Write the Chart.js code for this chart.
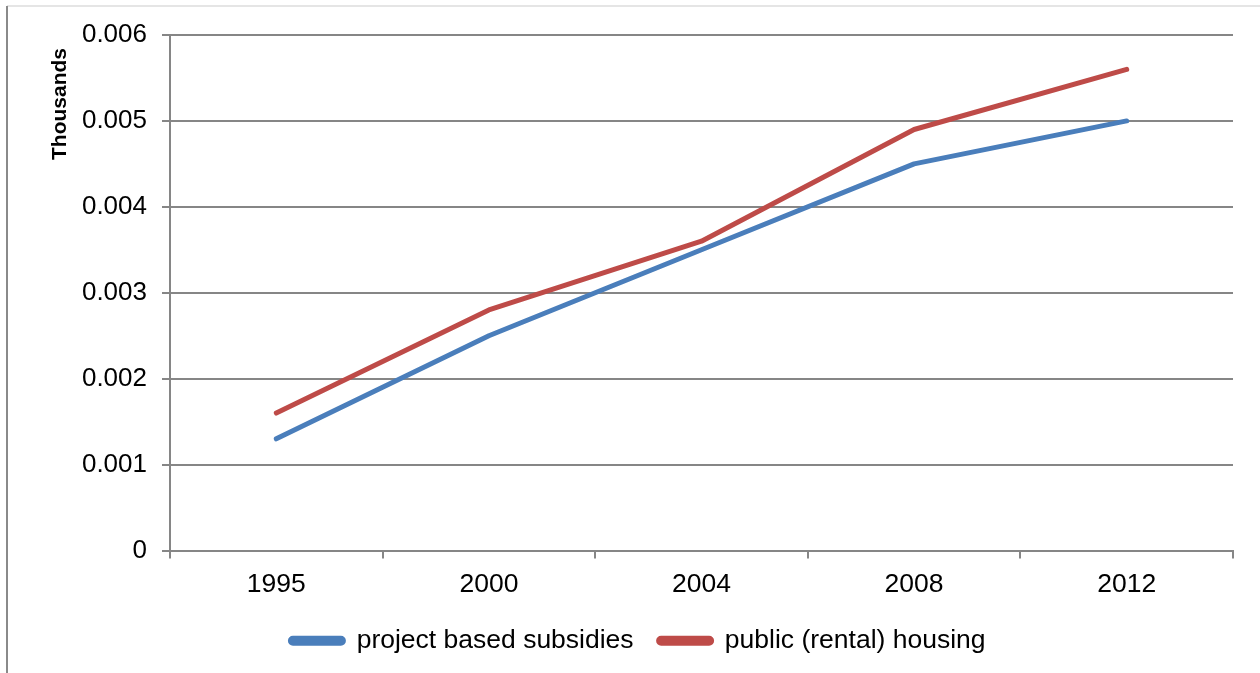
<!DOCTYPE html>
<html>
<head>
<meta charset="utf-8">
<script src="https://cdn.jsdelivr.net/npm/chart.js@4/dist/chart.umd.min.js"></script>
<style>
  html, body { margin: 0; padding: 0; background: #fff; }
  #wrap { width: 1260px; height: 673px; position: relative; }
</style>
</head>
<body>
<div id="wrap"><canvas id="housingChart" width="1260" height="673"></canvas></div>
<script>
const years = ['1995', '2000', '2004', '2008', '2012'];
const projectBased = [0.0013, 0.0025, 0.0035, 0.0045, 0.0050];
const publicHousing = [0.0016, 0.0028, 0.0036, 0.0049, 0.0056];
const yTickLabels = ['0', '0.001', '0.002', '0.003', '0.004', '0.005', '0.006'];
const yTitle = 'Thousands';

const gridGray = '#868686';
const font = 'Liberation Sans, Arial, sans-serif';

// outer frame of the chart box (left and top edges) and the y axis title
const framePlugin = {
    id: 'frame',
    beforeDraw(chart) {
        const ctx = chart.ctx;
        ctx.save();
        ctx.strokeStyle = '#dcdcdc';
        ctx.lineWidth = 1.5;
        ctx.beginPath();
        ctx.moveTo(7, 6);
        ctx.lineTo(1260, 6);
        ctx.stroke();
        ctx.strokeStyle = '#8a8a8a';
        ctx.lineWidth = 2;
        ctx.beginPath();
        ctx.moveTo(7, 6);
        ctx.lineTo(7, 673);
        ctx.stroke();
        ctx.restore();
    },
    afterDraw(chart) {
        const ctx = chart.ctx;
        ctx.save();
        ctx.translate(60, 104);
        ctx.rotate(-Math.PI / 2);
        ctx.fillStyle = '#000';
        ctx.font = 'bold 21px ' + font;
        ctx.textAlign = 'center';
        ctx.textBaseline = 'middle';
        ctx.fillText(yTitle, 0, 0);
        ctx.restore();
    }
};

new Chart(document.getElementById('housingChart'), {
    type: 'line',
    data: {
        labels: years,
        datasets: [
            {
                label: 'project based subsidies',
                data: projectBased,
                borderColor: '#4a7ebb',
                backgroundColor: '#4a7ebb',
                borderWidth: 5,
                borderCapStyle: 'round',
                borderJoinStyle: 'round',
                pointRadius: 0,
                tension: 0
            },
            {
                label: 'public (rental) housing',
                data: publicHousing,
                borderColor: '#be4b48',
                backgroundColor: '#be4b48',
                borderWidth: 5,
                borderCapStyle: 'round',
                borderJoinStyle: 'round',
                pointRadius: 0,
                tension: 0
            }
        ]
    },
    options: {
        responsive: false,
        animation: false,
        layout: {
            padding: { left: 43, right: 27, top: 35, bottom: 9 }
        },
        scales: {
            x: {
                offset: true,
                grid: {
                    offset: true,
                    drawOnChartArea: false,
                    drawTicks: true,
                    tickLength: 8,
                    color: gridGray,
                    lineWidth: 2
                },
                border: { display: true, color: gridGray, width: 2 },
                ticks: {
                    color: '#000',
                    padding: 10,
                    maxRotation: 0,
                    font: { family: font, size: 26.5 }
                },
                afterFit(scale) { scale.height = 52; }
            },
            y: {
                min: 0,
                max: 0.006,
                grid: {
                    color: gridGray,
                    lineWidth: 2,
                    drawTicks: true,
                    tickLength: 8
                },
                border: { display: true, color: gridGray, width: 2 },
                ticks: {
                    stepSize: 0.001,
                    color: '#000',
                    padding: 15,
                    font: { family: font, size: 26 },
                    callback: (v, i) => yTickLabels[i]
                },
                afterFit(scale) { scale.width = 127; }
            }
        },
        plugins: {
            legend: {
                position: 'bottom',
                labels: {
                    color: '#000',
                    boxWidth: 53,
                    boxHeight: 5,
                    useBorderRadius: true,
                    borderRadius: 2.5,
                    padding: 25,
                    font: { family: font, size: 26.5 }
                }
            },
            tooltip: { enabled: false }
        }
    },
    plugins: [framePlugin]
});
</script>
</body>
</html>
